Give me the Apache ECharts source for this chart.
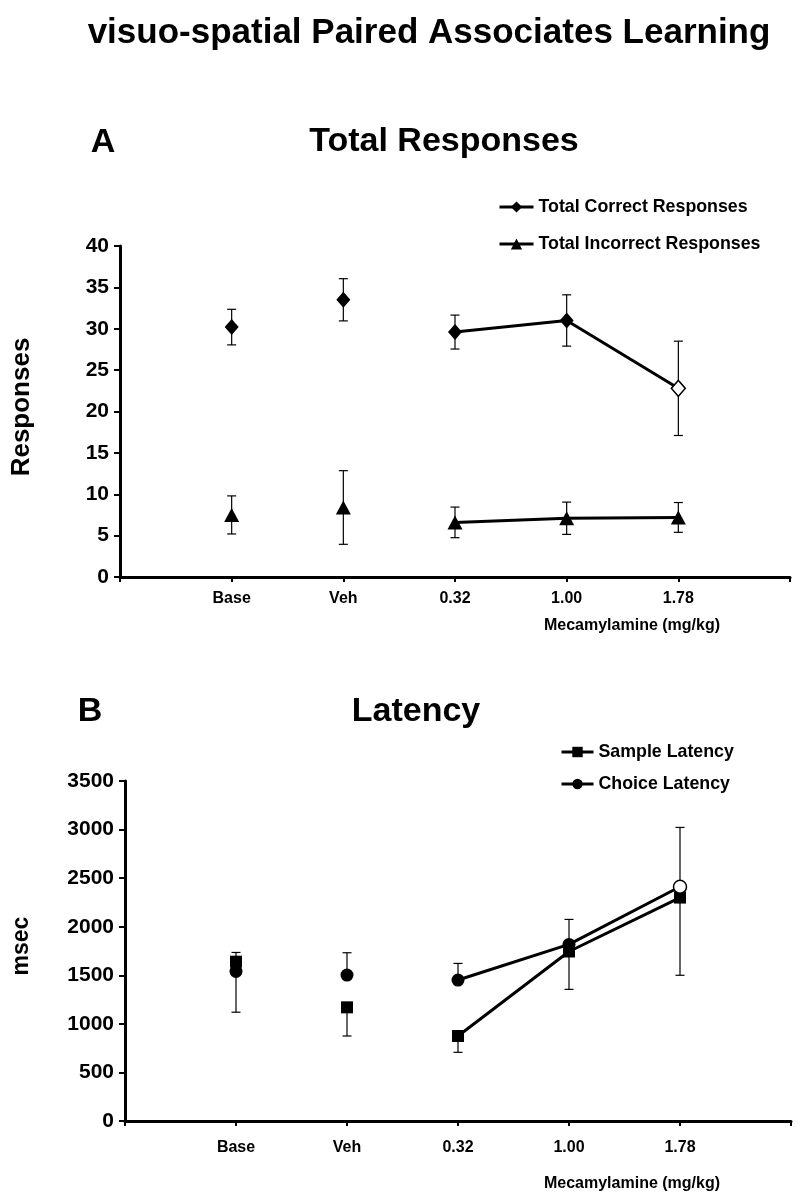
<!DOCTYPE html>
<html>
<head>
<meta charset="utf-8">
<script src="https://cdn.jsdelivr.net/npm/echarts@6/dist/echarts.min.js"></script>
<style>
  html, body { margin: 0; padding: 0; background: #fff; }
  #chart { width: 800px; height: 1200px; }
</style>
</head>
<body>
<div id="chart"></div>
<script>
// x categories (blank slots at both ends, as in the original figure)
const xCats = [' ', 'Base', 'Veh', '0.32', '1.00', '1.78', '  ']
const doses = ['Base', 'Veh', '0.32', '1.00', '1.78']

// Panel A: total responses (mean, +/- error)
const correctMean = [30.2, 33.5, 29.6, 31.0, 22.8]
const correctErr = [2.15, 2.55, 2.05, 3.1, 5.7]
const incorrectMean = [7.5, 8.4, 6.6, 7.1, 7.2]
const incorrectErr = [2.3, 4.45, 1.85, 1.95, 1.8]

// Panel B: latency in msec (choice error drawn up, sample error drawn down)
const sampleMean = [1640, 1170, 875, 1745, 2300]
const sampleErr = [520, 295, 168, 390, 800]
const choiceMean = [1540, 1502, 1451, 1818, 2411]
const choiceErr = [195, 230, 171, 257, 611]

const yTicksA = [0, 40, 5]
const yTicksB = [0, 3500, 500]

const FONT = '"Liberation Sans", Arial, sans-serif'
const OPEN_IDX = 4 // 1.78 mg/kg drawn with an open marker

const chart = echarts.init(document.getElementById('chart'), null, { renderer: 'canvas' })

function pts(mean, from, to, openMarker) {
  const out = []
  for (let i = from; i < to; i++) {
    const d = { value: [doses[i], mean[i]] }
    if (openMarker && i === OPEN_IDX) {
      d.itemStyle = { color: '#fff', borderColor: '#000', borderWidth: 1.5 }
    }
    out.push(d)
  }
  return out
}

function errData(mean, up, down) {
  return doses.map((d, i) => [d, mean[i] - down[i], mean[i] + up[i]])
}

function errSeries(idx, data) {
  return {
    type: 'custom',
    xAxisIndex: idx,
    yAxisIndex: idx,
    z: 1,
    silent: true,
    encode: { x: 0, y: [1, 2] },
    data,
    renderItem(params, api) {
      const lo = api.coord([api.value(0), api.value(1)])
      const hi = api.coord([api.value(0), api.value(2)])
      const cap = 4.5
      const st = { stroke: '#000', lineWidth: 1.2 }
      return {
        type: 'group',
        children: [
          { type: 'line', shape: { x1: lo[0], y1: lo[1], x2: hi[0], y2: hi[1] }, style: st },
          { type: 'line', shape: { x1: lo[0] - cap, y1: lo[1], x2: lo[0] + cap, y2: lo[1] }, style: st },
          { type: 'line', shape: { x1: hi[0] - cap, y1: hi[1], x2: hi[0] + cap, y2: hi[1] }, style: st },
        ],
      }
    },
  }
}

function pointSeries(idx, name, mean, symbol, size, openMarker) {
  const common = {
    xAxisIndex: idx,
    yAxisIndex: idx,
    symbol,
    symbolSize: size,
    itemStyle: { color: '#000', opacity: 1 },
    z: 3,
  }
  return [
    { ...common, type: 'scatter', name: name + ' (pre)', data: pts(mean, 0, 2, false) },
    {
      ...common,
      type: 'line',
      name,
      showSymbol: true,
      lineStyle: { color: '#000', width: 3 },
      data: pts(mean, 2, 5, openMarker),
    },
  ]
}

function xAxis(gridIdx, labelMargin) {
  return {
    type: 'category',
    gridIndex: gridIdx,
    data: xCats,
    boundaryGap: false,
    axisLine: { lineStyle: { color: '#000', width: 3 } },
    axisTick: { show: true, interval: 0, length: 5, lineStyle: { color: '#000', width: 2 } },
    axisLabel: {
      interval: 0,
      margin: labelMargin,
      color: '#000',
      fontFamily: FONT,
      fontWeight: 'bold',
      fontSize: 16,
      formatter: (v) => v.trim(),
    },
    splitLine: { show: false },
  }
}

function yAxis(gridIdx, ticks) {
  return {
    type: 'value',
    gridIndex: gridIdx,
    min: ticks[0],
    max: ticks[1],
    interval: ticks[2],
    axisLine: { show: true, lineStyle: { color: '#000', width: 3 } },
    axisTick: { show: true, length: 6, lineStyle: { color: '#000', width: 2 } },
    axisLabel: {
      margin: 11,
      color: '#000',
      fontFamily: FONT,
      fontWeight: 'bold',
      fontSize: 21,
      formatter: (v) => String(v),
    },
    splitLine: { show: false },
  }
}

function txt(x, y, text, size, rotation) {
  return {
    type: 'text',
    x,
    y,
    rotation: rotation || 0,
    style: {
      text,
      font: `bold ${size}px ${FONT}`,
      fill: '#000',
      align: 'center',
      verticalAlign: 'middle',
    },
  }
}

const legendText = { color: '#000', fontFamily: FONT, fontWeight: 'bold', fontSize: 17.8 }

chart.setOption({
  animation: false,
  backgroundColor: '#fff',
  grid: [
    { left: 120, top: 246, width: 670, height: 331 },
    { left: 125, top: 781, width: 666, height: 340 },
  ],
  xAxis: [xAxis(0, 14), xAxis(1, 19)],
  yAxis: [yAxis(0, yTicksA), yAxis(1, yTicksB)],
  legend: [
    {
      data: ['Total Correct Responses', 'Total Incorrect Responses'],
      orient: 'vertical',
      left: 498,
      top: 198,
      padding: 0,
      itemWidth: 34,
      itemHeight: 14,
      itemGap: 19,
      lineStyle: { width: 3 },
      textStyle: legendText,
      selectedMode: false,
    },
    {
      data: ['Sample Latency', 'Choice Latency'],
      orient: 'vertical',
      left: 560,
      top: 743,
      padding: 0,
      itemWidth: 32,
      itemHeight: 13,
      itemGap: 14,
      lineStyle: { width: 3 },
      textStyle: legendText,
      selectedMode: false,
    },
  ],
  graphic: [
    txt(429, 33, 'visuo-spatial Paired Associates Learning', 35),
    txt(103, 143, 'A', 34),
    txt(444, 142, 'Total Responses', 34),
    txt(90, 712, 'B', 34),
    txt(416, 712, 'Latency', 34),
    txt(22, 407, 'Responses', 26, Math.PI / 2),
    txt(22, 946, 'msec', 23, Math.PI / 2),
    txt(632, 626, 'Mecamylamine (mg/kg)', 16),
    txt(632, 1184, 'Mecamylamine (mg/kg)', 16),
  ],
  series: [
    errSeries(0, errData(correctMean, correctErr, correctErr)),
    errSeries(0, errData(incorrectMean, incorrectErr, incorrectErr)),
    ...pointSeries(0, 'Total Correct Responses', correctMean, 'diamond', [14, 16], true),
    ...pointSeries(0, 'Total Incorrect Responses', incorrectMean, 'triangle', [15, 14], false),
    errSeries(1, errData(sampleMean, sampleMean.map(() => 0), sampleErr)),
    errSeries(1, errData(choiceMean, choiceErr, choiceMean.map(() => 0))),
    ...pointSeries(1, 'Sample Latency', sampleMean, 'rect', [12, 12], false),
    ...pointSeries(1, 'Choice Latency', choiceMean, 'circle', [13, 13], true),
  ],
})
</script>
</body>
</html>
